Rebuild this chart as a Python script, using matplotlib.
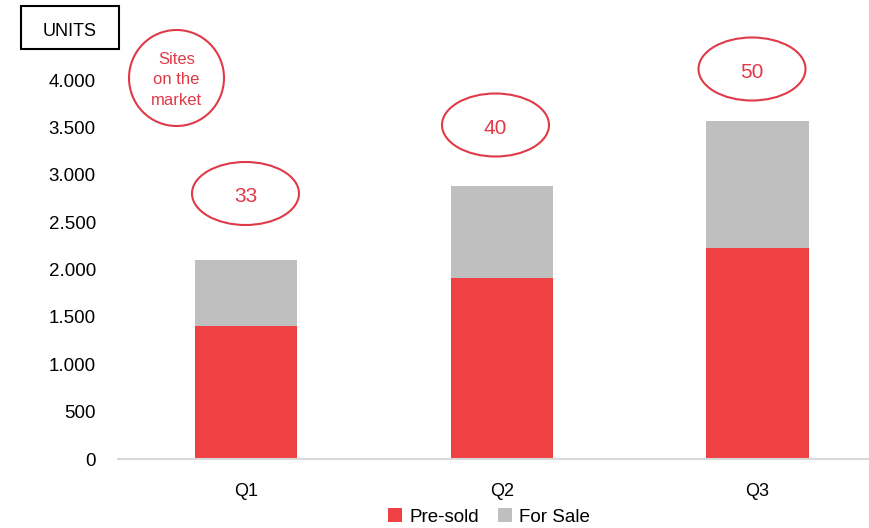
import matplotlib.pyplot as plt
from matplotlib.patches import Ellipse, Rectangle
from matplotlib.ticker import FuncFormatter, MultipleLocator

plt.rcParams['font.family'] = ['Liberation Sans', 'DejaVu Sans']

# data
quarters = ['Q1', 'Q2', 'Q3']
pre_sold = [1400, 1910, 2225]
for_sale = [700, 970, 1345]
sites = ['33', '40', '50']

red = '#EF4144'
grey = '#BFBFBF'
ring = '#E03A48'

W, H = 870, 528
fig = plt.figure(figsize=(W / 100, H / 100), dpi=100)
ax = fig.add_axes([118 / W, (H - 459) / H, (870 - 118) / W, (459 - 80) / H])

x = range(len(quarters))
ax.bar(x, pre_sold, width=0.40, color=red, label='Pre-sold')
ax.bar(x, for_sale, width=0.40, bottom=pre_sold, color=grey, label='For Sale')

ax.set_xlim(-0.5, 2.44)
ax.set_ylim(0, 4000)
ax.yaxis.set_major_locator(MultipleLocator(500))
ax.yaxis.set_major_formatter(FuncFormatter(lambda v, p: f'{int(v):,}'.replace(',', '.')))
ax.set_xticks(list(x))
ax.set_xticklabels(quarters)
ax.tick_params(axis='y', length=0, pad=16, labelsize=13.5)
ax.tick_params(axis='x', length=0, pad=17, labelsize=13)
for s in ['top', 'right', 'left']:
    ax.spines[s].set_visible(False)
ax.spines['bottom'].set_color('#D9D9D9')
ax.spines['bottom'].set_linewidth(1.5)

leg = ax.legend(loc='center', bbox_to_anchor=(489 / W, (H - 517) / H),
                bbox_transform=fig.transFigure, ncol=2, frameon=False,
                fontsize=13.5, handlelength=0.75, handleheight=0.75,
                handletextpad=0.4, columnspacing=1.0)


def fx(px):
    return px / W


def fy(py):
    return (H - py) / H


# units box
fig.patches.append(Rectangle((fx(21), fy(49)), (119 - 21) / W, (49 - 6) / H,
                             transform=fig.transFigure, fill=False,
                             edgecolor='black', linewidth=1.5))
fig.text(fx(70), fy(29), 'UNITS', ha='center', va='center_baseline', fontsize=13)

# sites on the market circle
fig.patches.append(Ellipse((fx(176.5), fy(78)), 95 / W, 96 / H,
                           transform=fig.transFigure, fill=False,
                           edgecolor=ring, linewidth=1.5))
fig.text(fx(176.5), fy(80), 'Sites\non the\nmarket', ha='center', va='center',
         fontsize=12, color=ring, linespacing=1.45)

# site counts
centers = [(245.5, 193.5), (495.5, 125), (752, 69)]
for (cx, cy), s in zip(centers, sites):
    fig.patches.append(Ellipse((fx(cx), fy(cy)), 107 / W, 63 / H,
                               transform=fig.transFigure, fill=False,
                               edgecolor=ring, linewidth=1.5))
    fig.text(fx(cx), fy(cy + 1), s, ha='center', va='center_baseline',
             fontsize=15, color=ring)

fig.savefig('out.png', dpi=100)
